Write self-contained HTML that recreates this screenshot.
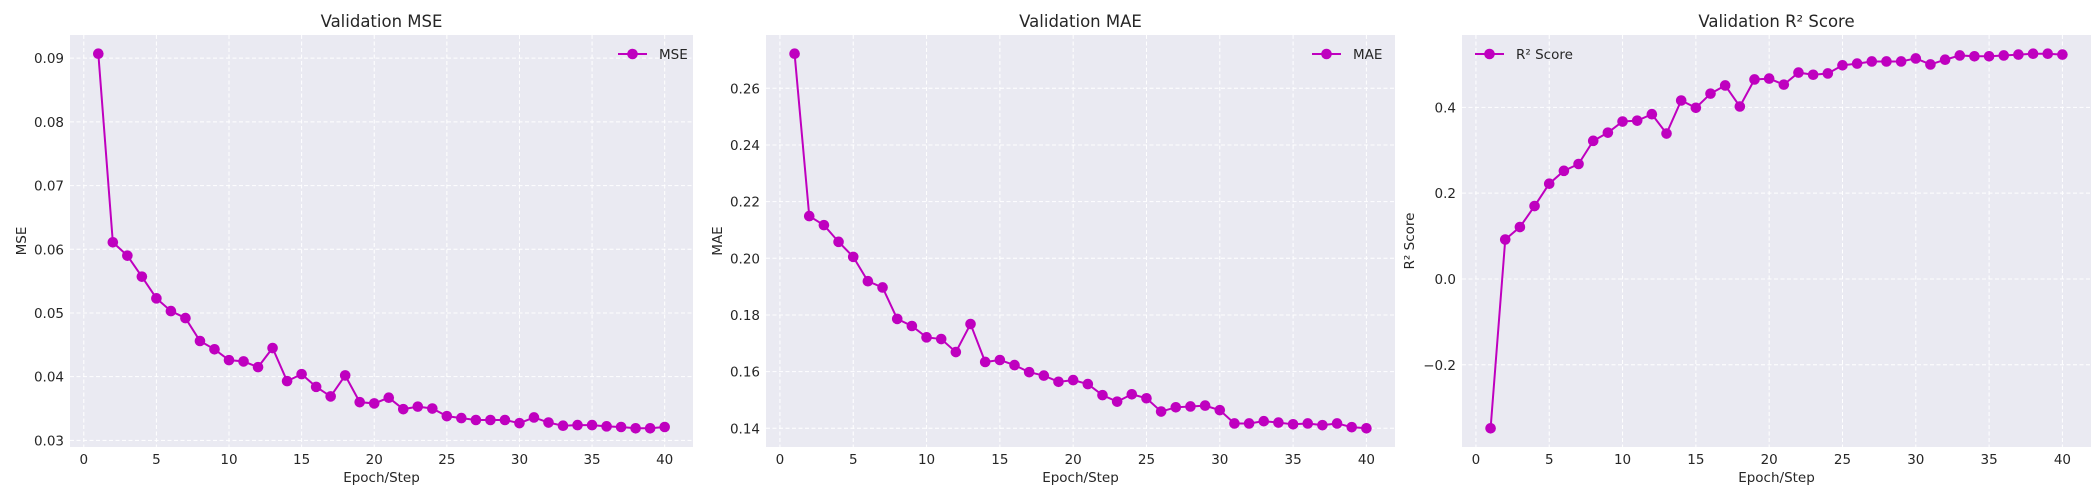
<!DOCTYPE html>
<html><head><meta charset="utf-8"><style>
html,body{margin:0;padding:0;background:#fff;}
svg{display:block;font-family:"DejaVu Sans","Liberation Sans",sans-serif;}
</style></head><body>
<svg id="fig" width="2100" height="500" viewBox="0 0 2100 500" xmlns="http://www.w3.org/2000/svg"></svg>
<script>
const epochs = Array.from({length:40},(_,i)=>i+1);
const mseValues = [0.0907,0.0611,0.0590,0.0557,0.0523,0.0503,0.0492,0.0456,0.0443,0.0426,0.0424,0.0415,0.0445,0.0393,0.0404,0.0384,0.0369,0.0402,0.0360,0.0358,0.0367,0.0349,0.0353,0.0350,0.0338,0.0335,0.0332,0.0332,0.0332,0.0327,0.0336,0.0328,0.0323,0.0324,0.0324,0.0322,0.0321,0.0319,0.0319,0.0321];
const maeValues = [0.2722,0.2149,0.2117,0.2058,0.2005,0.1919,0.1897,0.1786,0.1761,0.1721,0.1715,0.1669,0.1768,0.1634,0.1641,0.1623,0.1598,0.1586,0.1564,0.1570,0.1556,0.1517,0.1494,0.1520,0.1506,0.1459,0.1474,0.1477,0.1480,0.1464,0.1417,0.1417,0.1425,0.1420,0.1414,0.1417,0.1411,0.1417,0.1404,0.1400];
const r2Values = [-0.348,0.092,0.121,0.170,0.222,0.252,0.268,0.322,0.341,0.367,0.369,0.384,0.339,0.416,0.399,0.432,0.451,0.402,0.465,0.467,0.453,0.481,0.476,0.479,0.498,0.502,0.507,0.507,0.507,0.514,0.500,0.511,0.521,0.519,0.519,0.521,0.523,0.525,0.525,0.523];
const xTicks = [0,5,10,15,20,25,30,35,40];
const mseTicks = [0.03,0.04,0.05,0.06,0.07,0.08,0.09];
const maeTicks = [0.14,0.16,0.18,0.20,0.22,0.24,0.26];
const r2Ticks = [-0.2,0.0,0.2,0.4];
const mseTickLabels = ["0.03","0.04","0.05","0.06","0.07","0.08","0.09"];
const maeTickLabels = ["0.14","0.16","0.18","0.20","0.22","0.24","0.26"];
const r2TickLabels = ["\u22120.2","0.0","0.2","0.4"];

const NS="http://www.w3.org/2000/svg";
const svg=document.getElementById('fig');
function mk(tag,attrs,parent){const e=document.createElementNS(NS,tag);for(const k in attrs)e.setAttribute(k,attrs[k]);(parent||svg).appendChild(e);return e;}

function panel(key,left,right,title,ylabel,ylabelX,vals,yt,ytl,legendLabel,legendLeft){
  const top=35,bottom=447;
  const g=mk('g',{});
  
  
  const xmin=1,xmax=40,xm=(xmax-xmin)*0.05;
  const lo=Math.min(...vals),hi=Math.max(...vals),ym=(hi-lo)*0.05;
  const x0=xmin-xm,x1=xmax+xm,y0=lo-ym,y1=hi+ym;
  const sx=v=>left+(v-x0)/(x1-x0)*(right-left);
  const sy=v=>bottom-(v-y0)/(y1-y0)*(bottom-top);
  const bg=mk('rect',{x:left,y:top,width:right-left,height:bottom-top,fill:'#eaeaf2'},g);
  
  
  xTicks.forEach(t=>{
    const x=sx(t);
    mk('line',{x1:x,x2:x,y1:top,y2:bottom,stroke:'#fff','stroke-width':1,'stroke-dasharray':'4,2.5'},g);
    const tx=mk('text',{x:x,y:bottom+17,'text-anchor':'middle','font-size':13.5,fill:'#262626'},g);
    tx.textContent=t;
    
    
  });
  yt.forEach((t,i)=>{
    const y=sy(t);
    mk('line',{x1:left,x2:right,y1:y,y2:y,stroke:'#fff','stroke-width':1,'stroke-dasharray':'4,2.5'},g);
    const tx=mk('text',{x:left-6,y:y+5,'text-anchor':'end','font-size':13.5,fill:'#262626'},g);
    tx.textContent=ytl[i];
    
    
  });
  const pts=vals.map((v,i)=>sx(epochs[i])+','+sy(v)).join(' ');
  const line=mk('polyline',{points:pts,fill:'none',stroke:'#bf00bf','stroke-width':2},g);
  
  
  vals.forEach((v,i)=>{
    const c=mk('circle',{cx:sx(epochs[i]),cy:sy(v),r:5.3,fill:'#bf00bf'},g);
    
    
  });
  const tt=mk('text',{x:(left+right)/2,y:27,'text-anchor':'middle','font-size':16.5,fill:'#262626'},g);
  tt.textContent=title;
  
  
  const xl=mk('text',{x:(left+right)/2,y:482,'text-anchor':'middle','font-size':13.5,fill:'#262626'},g);
  xl.textContent='Epoch/Step';
  
  
  const yl=mk('text',{x:0,y:0,'text-anchor':'middle','font-size':13.5,fill:'#262626',transform:'translate('+(ylabelX+5)+','+((top+bottom)/2)+') rotate(-90)'},g);
  yl.textContent=ylabel;
  
  
  const lg=mk('g',{},g);
  
  
  mk('line',{x1:legendLeft,x2:legendLeft+29,y1:54,y2:54,stroke:'#bf00bf','stroke-width':2},lg);
  mk('circle',{cx:legendLeft+14.5,cy:54,r:5.3,fill:'#bf00bf'},lg);
  const lt=mk('text',{x:legendLeft+41,y:59,'font-size':13.5,fill:'#262626'},lg);
  lt.textContent=legendLabel;
}
panel('mse',70,693,'Validation MSE','MSE',21,mseValues,mseTicks,mseTickLabels,'MSE',618);
panel('mae',766,1395,'Validation MAE','MAE',717,maeValues,maeTicks,maeTickLabels,'MAE',1312);
panel('r2',1462,2091,'Validation R\u00b2 Score','R\u00b2 Score',1409,r2Values,r2Ticks,r2TickLabels,'R\u00b2 Score',1475);
</script>
</body></html>
